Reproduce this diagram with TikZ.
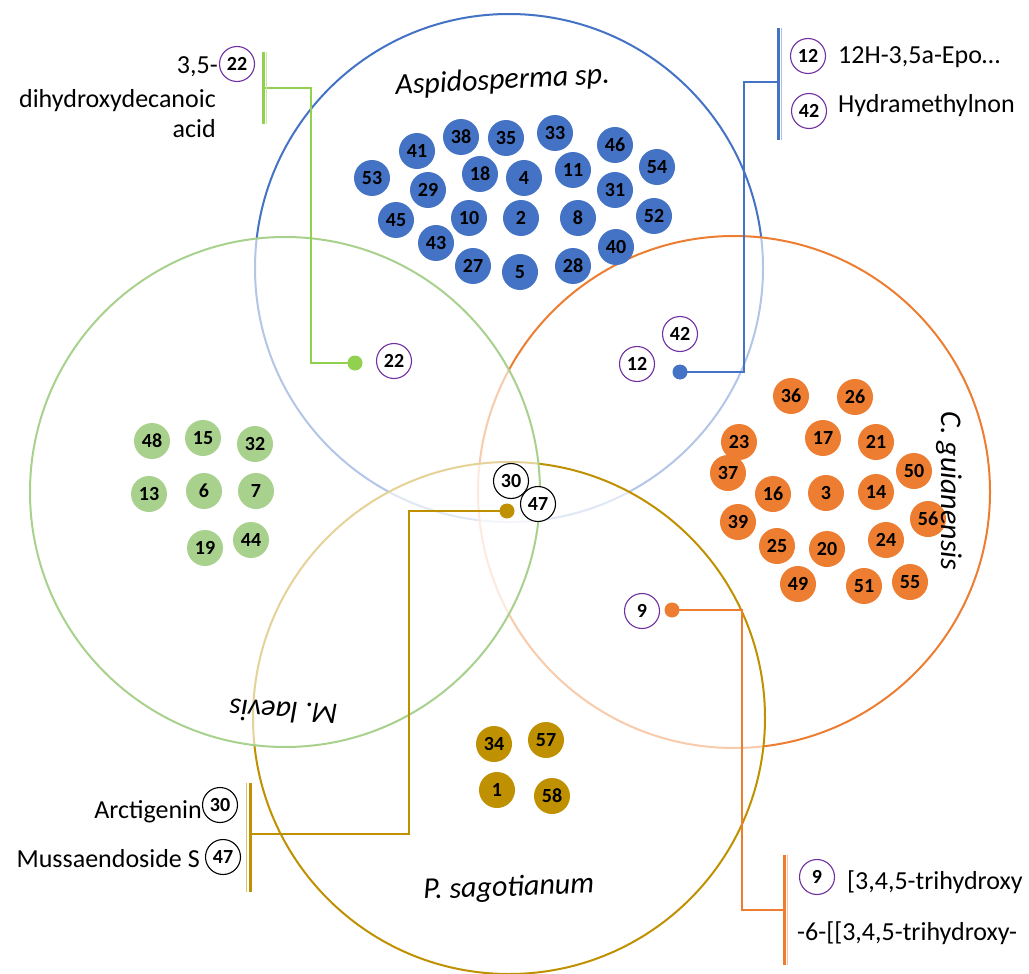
\documentclass[tikz,border=0pt]{standalone}
\usepackage{fontspec}
\setmainfont{Carlito}
\definecolor{cblue}{HTML}{4472C4}
\definecolor{cgreen}{HTML}{A9D18E}
\definecolor{cgreenb}{HTML}{92D050}
\definecolor{corange}{HTML}{ED7D31}
\definecolor{cgold}{HTML}{BF9000}
\definecolor{cpurple}{HTML}{7030A0}
\begin{document}
\begin{tikzpicture}[x=1pt,y=-1pt,
  venn/.style={line width=2pt, fill=white, fill opacity=0.6, draw opacity=1},
  num/.style={circle, inner sep=0pt, minimum size=36pt, font=\fontsize{20}{20}\selectfont\bfseries},
  dotblue/.style={num, fill=cblue},
  dotgreen/.style={num, fill=cgreen},
  dotorange/.style={num, fill=corange},
  dotgold/.style={num, fill=cgold},
  tag/.style={num, minimum size=35pt, draw=cpurple, line width=1.1pt, fill=white},
  tagk/.style={tag, draw=black},
  pin/.style={circle, inner sep=0pt, minimum size=15pt},
  conn/.style={line width=2pt},
  lbl/.style={font=\fontsize{26}{26}\selectfont, inner sep=0pt},
  species/.style={font=\fontsize{30}{30}\selectfont\itshape, inner sep=0pt},
]
\useasboundingbox (0,0) rectangle (1029,974);

% Venn circles (order gives the faded overlaps)
\draw[venn, draw=cblue] (509,268) circle (254);
\draw[venn, draw=corange] (734,492) circle (256);
\draw[venn, draw=cgold] (509,718) circle (256);
\draw[venn, draw=cgreen] (285,492) circle (255);

% Aspidosperma sp. only
\node[dotblue] (b41) at (417,151) {41};
\node[dotblue] (b38) at (461,137) {38};
\node[dotblue] (b35) at (506,138) {35};
\node[dotblue] (b33) at (555,133) {33};
\node[dotblue] (b46) at (615,145) {46};
\node[dotblue] (b54) at (657,167) {54};
\node[dotblue] (b53) at (372,178) {53};
\node[dotblue] (b29) at (428,190) {29};
\node[dotblue] (b18) at (480,174) {18};
\node[dotblue] (b4) at (524,178) {4};
\node[dotblue] (b11) at (573,170) {11};
\node[dotblue] (b31) at (615,190) {31};
\node[dotblue] (b45) at (396,220) {45};
\node[dotblue] (b10) at (469,218) {10};
\node[dotblue] (b2) at (521,218) {2};
\node[dotblue] (b8) at (578,218) {8};
\node[dotblue] (b52) at (654,216) {52};
\node[dotblue] (b43) at (436,243) {43};
\node[dotblue] (b40) at (616,247) {40};
\node[dotblue] (b27) at (473,266) {27};
\node[dotblue] (b5) at (520,272) {5};
\node[dotblue] (b28) at (573,266) {28};

% M. laevis only
\node[dotgreen] (g48) at (152,441) {48};
\node[dotgreen] (g15) at (203,438) {15};
\node[dotgreen] (g32) at (255,444) {32};
\node[dotgreen] (g13) at (149,494) {13};
\node[dotgreen] (g6) at (204,491) {6};
\node[dotgreen] (g7) at (256,491) {7};
\node[dotgreen] (g19) at (205,548) {19};
\node[dotgreen] (g44) at (251,540) {44};

% C. guianensis only
\node[dotorange] (o36) at (791,396) {36};
\node[dotorange] (o26) at (855,397) {26};
\node[dotorange] (o23) at (739,442) {23};
\node[dotorange] (o17) at (823,438) {17};
\node[dotorange] (o21) at (876,442) {21};
\node[dotorange] (o50) at (914,471) {50};
\node[dotorange] (o37) at (728,473) {37};
\node[dotorange] (o16) at (773,494) {16};
\node[dotorange] (o3) at (826,493) {3};
\node[dotorange] (o14) at (876,492) {14};
\node[dotorange] (o56) at (928,519) {56};
\node[dotorange] (o39) at (738,522) {39};
\node[dotorange] (o25) at (777,546) {25};
\node[dotorange] (o20) at (827,549) {20};
\node[dotorange] (o24) at (886,540) {24};
\node[dotorange] (o49) at (798,584) {49};
\node[dotorange] (o51) at (864,586) {51};
\node[dotorange] (o55) at (910,582) {55};

% P. sagotianum only
\node[dotgold] (p34) at (494,744) {34};
\node[dotgold] (p57) at (546,740) {57};
\node[dotgold] (p1) at (497,790) {1};
\node[dotgold] (p58) at (552,796) {58};

% shared compounds
\node[tag] (m22) at (394,361) {22};
\node[tag] (m12) at (637,364) {12};
\node[tag] (m42) at (680,334) {42};
\node[tag] (m9) at (642,611) {9};
\node[tagk] (m30) at (511,481) {30};
\node[tagk] (m47) at (538,504) {47};

% bracket coordinates
\coordinate (gbrT) at (263,52);  \coordinate (gbrB) at (263,124); \coordinate (gbrM) at (263,88);
\coordinate (bbrT) at (778,28);  \coordinate (bbrB) at (778,140); \coordinate (bbrM) at (778,82);
\coordinate (obrT) at (250,783); \coordinate (obrB) at (250,892); \coordinate (obrM) at (250,834);
\coordinate (rbrT) at (784,855); \coordinate (rbrB) at (784,965); \coordinate (rbrM) at (784,910);

% callout connectors
\draw[conn, cgreenb] (355,363) coordinate (gstart) -- ++(-44,0) |- (gbrM);
\draw[conn, cblue] (680,372) coordinate (bstart) -- ++(64,0) |- (bbrM);
\draw[conn, cgold] (507,511) coordinate (ostart) -- ++(-98,0) |- (obrM);
\draw[conn, corange] (672,610) coordinate (rstart) -- ++(70,0) |- (rbrM);

\node[pin, fill=cgreenb] (gpin) at (gstart) {};
\node[pin, fill=cblue] (bpin) at (bstart) {};
\node[pin, fill=cgold] (opin) at (ostart) {};
\node[pin, fill=corange] (rpin) at (rstart) {};

% brackets
\draw[line width=3pt, cgreenb] (gbrT) -- (gbrB);
\draw[line width=1.5pt, cgreenb!50] ([xshift=3.5pt]gbrT) -- ([xshift=3.5pt]gbrB);
\draw[line width=3pt, cblue] (bbrT) -- (bbrB);
\draw[line width=1.5pt, cblue!45] ([xshift=3.5pt]bbrT) -- ([xshift=3.5pt]bbrB);
\draw[line width=3pt, cgold] (obrT) -- (obrB);
\draw[line width=1.5pt, cgold!55] ([xshift=-3.5pt]obrT) -- ([xshift=-3.5pt]obrB);
\draw[line width=3pt, corange] (rbrT) -- (rbrB);
\draw[line width=1.5pt, corange!45] ([xshift=3.5pt]rbrT) -- ([xshift=3.5pt]rbrB);

% callout texts
\node[tag] (c22) at (237,64) {22};
\node[lbl, anchor=base east] (t1) at (218,74) {3,5-};
\node[lbl, anchor=base east] (t2) at (216,107) {dihydroxydecanoic};
\node[lbl, anchor=base east] (t3) at (216,138) {acid};

\node[tag] (c12) at (808,56) {12};
\node[tag] (c42) at (809,111) {42};
\node[lbl, anchor=base west] (t4) at (838,64) {12H-3,5a-Epo…};
\node[lbl, anchor=base west] (t5) at (838,113) {Hydramethylnon};

\node[tagk] (c30) at (220,805) {30};
\node[tagk] (c47) at (223,857) {47};
\node[lbl, anchor=base east] (t6) at (202,818) {Arctigenin};
\node[lbl, anchor=base east] (t7) at (200,867) {Mussaendoside S};

\node[tag] (c9) at (817,877) {9};
\node[lbl, anchor=base west] (t8) at (847,889) {[3,4,5-trihydroxy};
\node[lbl, anchor=base west] (t9) at (797,940) {-6-[[3,4,5-trihydroxy-};

% species names
\node[species, anchor=base, rotate=3] (sA) at (503,89) {Aspidosperma sp.};
\node[species, anchor=base, rotate=2] (sP) at (509,896) {P. sagotianum};
\node[species, anchor=base, rotate=-90] (sC) at (941,491) {C. guianensis};
\node[species, anchor=base, rotate=177] (sM) at (284,702) {M. laevis};
\end{tikzpicture}
\end{document}
